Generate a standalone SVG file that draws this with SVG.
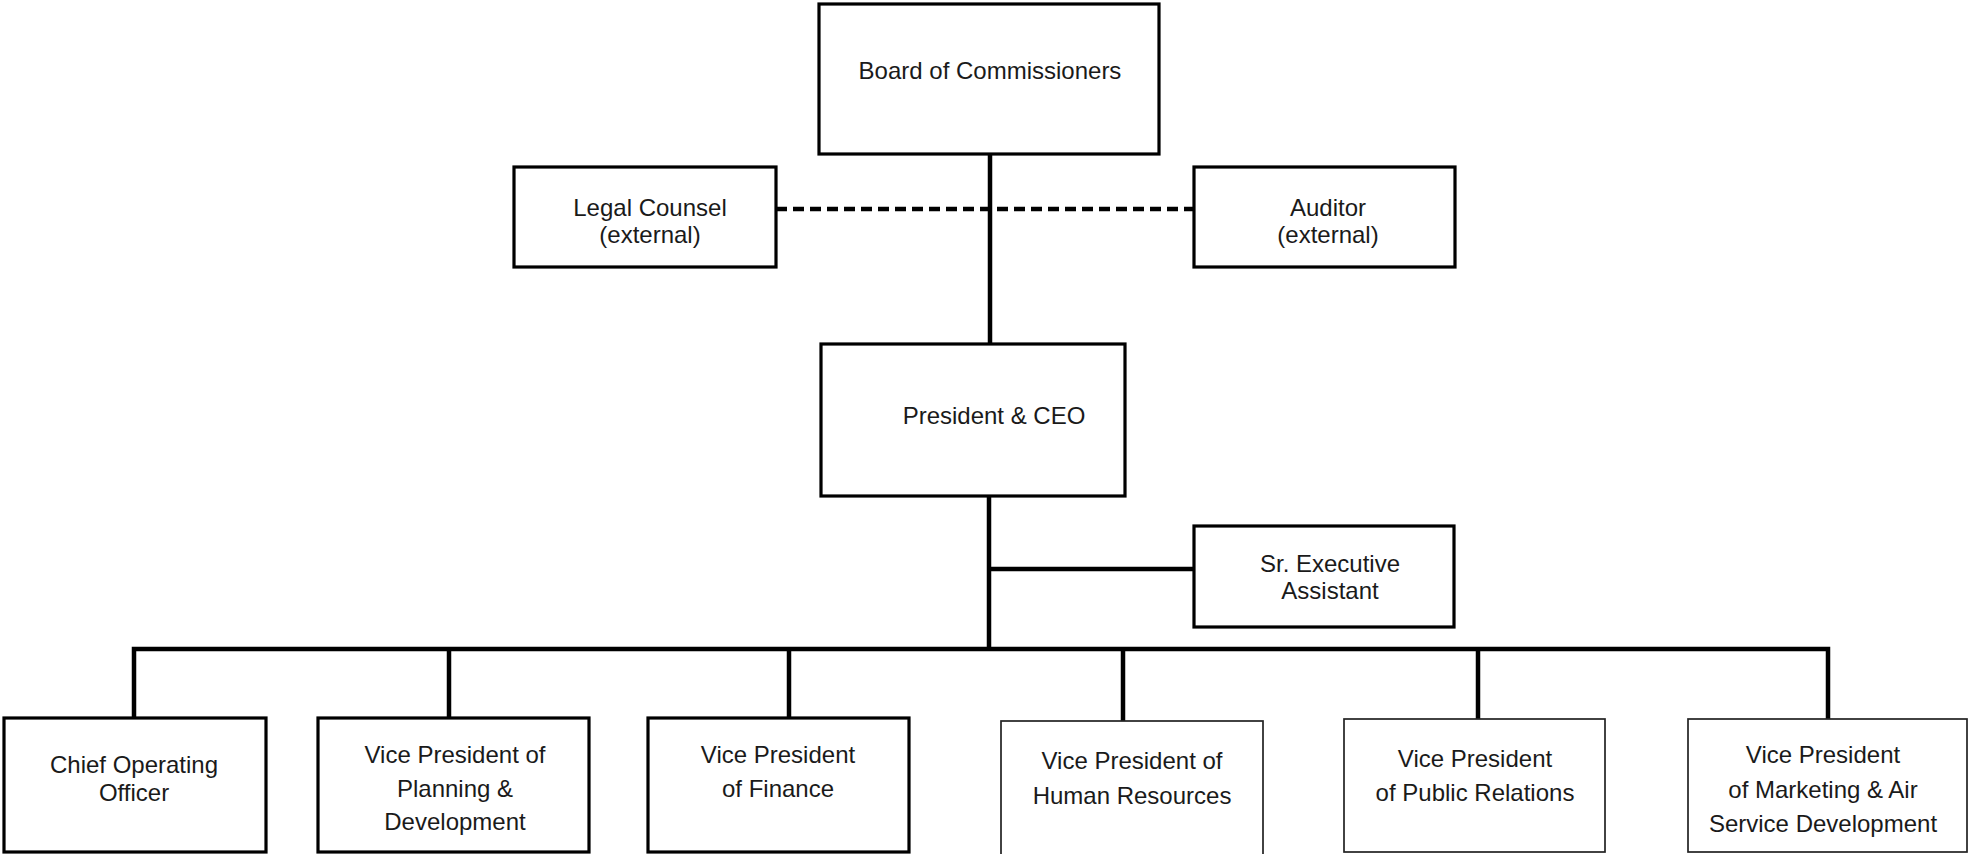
<svg xmlns="http://www.w3.org/2000/svg" width="1969" height="854" viewBox="0 0 1969 854">
<style>
.box{fill:#fff;stroke:#000;stroke-width:3.2}
.thin{fill:#fff;stroke:#222;stroke-width:1.7}
.t{font-family:"Liberation Sans",Arial,sans-serif;font-size:24px;fill:#1a1a1a;text-anchor:middle}
.ln{fill:none;stroke:#000;stroke-width:4.5;stroke-linejoin:miter;stroke-linecap:butt}
.dash{fill:none;stroke:#000;stroke-width:4.5;stroke-dasharray:11 6}
</style>
<rect width="1969" height="854" fill="#fff"/>
<g id="connectors">
<line class="ln" x1="990" y1="154" x2="990" y2="344"/>
<line class="dash" x1="776" y1="209" x2="1194" y2="209"/>
<line class="ln" x1="989" y1="496" x2="989" y2="649"/>
<line class="ln" x1="989" y1="569" x2="1194" y2="569"/>
<path class="ln" d="M134,718 V649 H1828 V719"/>
<line class="ln" x1="449" y1="649" x2="449" y2="718"/>
<line class="ln" x1="789" y1="649" x2="789" y2="718"/>
<line class="ln" x1="1123" y1="649" x2="1123" y2="721"/>
<line class="ln" x1="1478" y1="649" x2="1478" y2="719"/>
</g>
<g id="board">
<rect class="box" x="819" y="4" width="340" height="150"/>
<text class="t" x="990" y="79">Board of Commissioners</text>
</g>
<g id="legal">
<rect class="box" x="514" y="167" width="262" height="100"/>
<text class="t" x="650" y="216">Legal Counsel</text>
<text class="t" x="650" y="243">(external)</text>
</g>
<g id="auditor">
<rect class="box" x="1194" y="167" width="261" height="100"/>
<text class="t" x="1328" y="216">Auditor</text>
<text class="t" x="1328" y="243">(external)</text>
</g>
<g id="president">
<rect class="box" x="821" y="344" width="304" height="152"/>
<text class="t" x="994" y="424">President &amp; CEO</text>
</g>
<g id="assistant">
<rect class="box" x="1194" y="526" width="260" height="101"/>
<text class="t" x="1330" y="572">Sr. Executive</text>
<text class="t" x="1330" y="599">Assistant</text>
</g>
<g id="coo">
<rect class="box" x="4" y="718" width="262" height="134"/>
<text class="t" x="134" y="773">Chief Operating</text>
<text class="t" x="134" y="801">Officer</text>
</g>
<g id="vp-planning">
<rect class="box" x="318" y="718" width="271" height="134"/>
<text class="t" x="455" y="763">Vice President of</text>
<text class="t" x="455" y="797">Planning &amp;</text>
<text class="t" x="455" y="830">Development</text>
</g>
<g id="vp-finance">
<rect class="box" x="648" y="718" width="261" height="134"/>
<text class="t" x="778" y="763">Vice President</text>
<text class="t" x="778" y="797">of Finance</text>
</g>
<g id="vp-hr">
<rect class="thin" x="1001" y="721" width="262" height="140"/>
<text class="t" x="1132" y="769">Vice President of</text>
<text class="t" x="1132" y="804">Human Resources</text>
</g>
<g id="vp-pr">
<rect class="thin" x="1344" y="719" width="261" height="133"/>
<text class="t" x="1475" y="767">Vice President</text>
<text class="t" x="1475" y="801">of Public Relations</text>
</g>
<g id="vp-marketing">
<rect class="thin" x="1688" y="719" width="279" height="133"/>
<text class="t" x="1823" y="763">Vice President</text>
<text class="t" x="1823" y="798">of Marketing &amp; Air</text>
<text class="t" x="1823" y="832">Service Development</text>
</g>
</svg>
